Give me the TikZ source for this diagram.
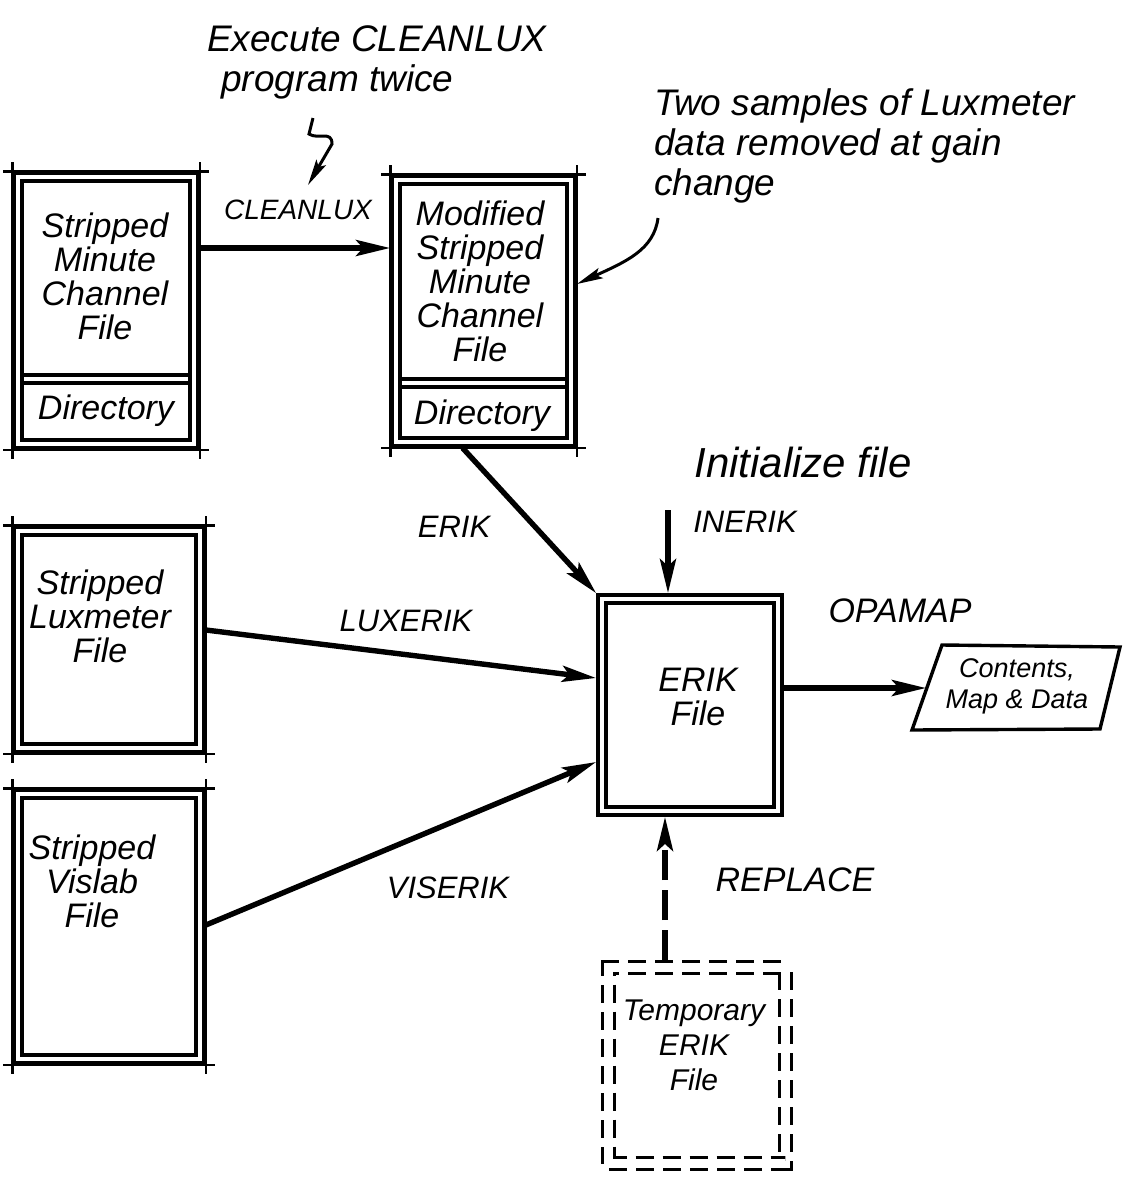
\documentclass[tikz,border=0pt]{standalone}
\usepackage{fontspec}
\setmainfont{Liberation Sans}
\usetikzlibrary{arrows.meta}
\begin{document}
\begin{tikzpicture}[x=1pt,y=-1pt,
  filebox/.style={draw, double, line width=3.6pt, double distance=4.6pt, rectangle, inner sep=0pt, outer sep=5.9pt},
  dashbox/.style={filebox, line width=3.2pt, double distance=8.6pt, outer sep=7.5pt, dash pattern=on 18pt off 9pt},
  divline/.style={line width=3.4pt},
  tick/.style={line width=2.8pt},
  boxtext/.style={font=\fontsize{34}{34}\selectfont\itshape, align=center, inner sep=0pt},
  lbl/.style={font=\fontsize{31}{32}\selectfont\itshape, inner sep=0pt},
  note/.style={font=\fontsize{37}{40}\selectfont\itshape, align=left, inner sep=0pt},
  arr/.style={line width=5.4pt, -{Stealth[length=34pt,width=16pt,inset=7pt]}},
  darr/.style={arr, dash pattern=on 30pt off 10pt},
  thinarr/.style={line width=3pt, -{Stealth[length=26pt,width=11pt,inset=5pt]}}
]
\useasboundingbox (0,0) rectangle (1122,1178);
\newcommand\cornerticks[1]{%
  \draw[tick] ([xshift=-9pt]#1.north west) -- ([xshift=9pt]#1.north east);
  \draw[tick] ([yshift=9pt]#1.north east) -- ([yshift=-9pt]#1.south east);
  \draw[tick] ([xshift=-9pt]#1.south west) -- ([xshift=9pt]#1.south east);
  \draw[tick] ([yshift=9pt]#1.north west) -- ([yshift=-9pt]#1.south west);}

% file boxes
\node[filebox, minimum width=176pt, minimum height=267pt] (smc) at (106,310.5) {};
\node[filebox, minimum width=175pt, minimum height=262pt] (msmc) at (483.5,311) {};
\node[filebox, minimum width=182pt, minimum height=217pt] (lux) at (109,639.5) {};
\node[filebox, minimum width=182pt, minimum height=265pt] (vis) at (109,926.5) {};
\node[filebox, minimum width=176pt, minimum height=212pt] (erik) at (690,705) {};
\node[dashbox, minimum width=177pt, minimum height=196pt] (temp) at (697,1065.5) {};

% directory dividers
\draw[divline] (22.4,375) -- (189.6,375);
\draw[divline] (22.4,383) -- (189.6,383);
\draw[divline] (400.4,379) -- (566.6,379);
\draw[divline] (400.4,387) -- (566.6,387);

% output parallelogram
\draw[line width=3.4pt] (912,730) -- (942,645) -- (1120,647) -- (1100,729) -- cycle;
\coordinate (cmdL) at (926,688);
\node[boxtext, font=\fontsize{27}{31}\selectfont\itshape] (cmdt) at (1017,686) {Contents,\\Map \& Data};

% box texts
\node[boxtext] (t1) at (105,276) {Stripped\\Minute\\Channel\\File};
\node[boxtext] (d1) at (106,411) {Directory};
\node[boxtext] (t2) at (480,281) {Modified\\Stripped\\Minute\\Channel\\File};
\node[boxtext] (d2) at (482,416) {Directory};
\node[boxtext] (t3) at (100,616) {Stripped\\Luxmeter\\File};
\node[boxtext] (t4) at (92,881) {Stripped\\Vislab\\File};
\node[boxtext] (t5) at (698,697) {ERIK\\File};
\node[boxtext, font=\fontsize{30}{35}\selectfont\itshape] (t6) at (694,1045) {Temporary\\ERIK\\File};

% connectors
\draw[arr] ([yshift=62.5pt]smc.east) -- ([yshift=63pt]msmc.west);
\draw[arr] ([xshift=-21pt]msmc.south) -- (erik.north west);
\coordinate (inerikstart) at (668,510);
\draw[arr] (inerikstart) -- ([xshift=-22pt]erik.north);
\draw[arr] ([yshift=9.5pt]lux.east) -- ([yshift=27pt]erik.west);
\draw[arr] ([yshift=1.5pt]vis.east) -- ([yshift=-57pt]erik.west);
\draw[arr] ([yshift=17pt]erik.east) -- (cmdL);
\draw[darr] ([xshift=-32pt]temp.north) -- ([xshift=-25pt]erik.south);

% connector labels
\node[lbl, font=\fontsize{28}{30}\selectfont\itshape] (lcl) at (298,210) {CLEANLUX};
\node[lbl] (lerik) at (454,527) {ERIK};
\node[lbl] (linerik) at (745,522) {INERIK};
\node[lbl] (llux) at (406,621) {LUXERIK};
\node[lbl] (lvis) at (448,888) {VISERIK};
\node[lbl, font=\fontsize{34}{34}\selectfont\itshape] (lopa) at (900,611) {OPAMAP};
\node[lbl, font=\fontsize{34}{34}\selectfont\itshape] (lrep) at (795,880) {REPLACE};
\node[note, font=\fontsize{42}{44}\selectfont\itshape] (init) at (803,462) {Initialize file};

% annotations
\node[note, anchor=west] (exec) at (207,62) {Execute CLEANLUX\\\hspace*{14pt}program twice};
\node[note, anchor=north west] (two) at (654,88) {Two samples of Luxmeter\\data removed at gain\\change};

\coordinate (sq0) at (313,118);
\coordinate (sq1) at (309,134);
\coordinate (sq2) at (332,144);
\coordinate (sq3) at (308,185);
\draw[thinarr] (sq0) -- (sq1) .. controls (318,140) and (332,130) .. (sq2) -- (sq3);

\coordinate (cv0) at (658,218);
\coordinate (cv1) at (577,284);
\draw[thinarr] (cv0) .. controls (654,250) and (625,262) .. (cv1);

% corner ticks
\cornerticks{smc}
\cornerticks{msmc}
\cornerticks{lux}
\cornerticks{vis}
\end{tikzpicture}
\end{document}
